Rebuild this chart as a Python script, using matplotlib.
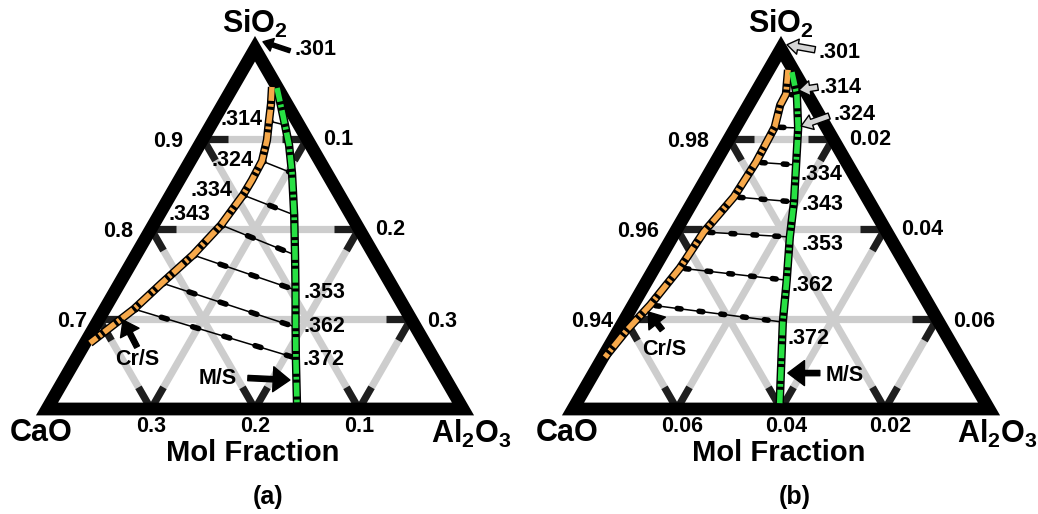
import numpy as np
import matplotlib.pyplot as plt
from matplotlib.patches import Polygon

plt.rcParams['font.family'] = ['Liberation Sans', 'DejaVu Sans']
plt.rcParams['font.weight'] = 'bold'
plt.rcParams['mathtext.fontset'] = 'custom'
plt.rcParams['mathtext.rm'] = 'Liberation Sans:bold'
plt.rcParams['mathtext.bf'] = 'Liberation Sans:bold'
plt.rcParams['lines.scale_dashes'] = False

# ---------------- data, panel (a): SiO2 0.6 .. 1.0 ----------------
a_sio2_min = 0.6
a_left_vals = [0.7, 0.8, 0.9]      # SiO2
a_right_vals = [0.1, 0.2, 0.3]     # Al2O3
a_bottom_vals = [0.3, 0.2, 0.1]    # CaO

# Cr/S and M/S boundaries (mol fraction SiO2, Al2O3)
a_crs_sio2 = [0.9575, 0.9386, 0.9197, 0.8986, 0.8753, 0.8542, 0.8376, 0.8209, 0.8043, 0.7710, 0.7399, 0.7110, 0.6733]
a_crs_al2o3 = [0.0376, 0.0461, 0.0536, 0.0622, 0.0691, 0.0700, 0.0697, 0.0674, 0.0652, 0.0549, 0.0406, 0.0282, 0.0047]
a_ms_sio2 = [0.9564, 0.9364, 0.9153, 0.8931, 0.8620, 0.8154, 0.7710, 0.7321, 0.6910, 0.6566, 0.6044]
a_ms_al2o3 = [0.0430, 0.0568, 0.0712, 0.0862, 0.1046, 0.1300, 0.1530, 0.1729, 0.1935, 0.2110, 0.2382]

tie_labels = ['.314', '.324', '.334', '.343', '.353', '.362', '.372']
a_tie_crs_sio2 = [0.9197, 0.8753, 0.8376, 0.8043, 0.7710, 0.7399, 0.7110]
a_tie_crs_al2o3 = [0.0536, 0.0691, 0.0697, 0.0652, 0.0549, 0.0406, 0.0282]
a_tie_ms_sio2 = [0.9153, 0.8620, 0.8154, 0.7710, 0.7321, 0.6910, 0.6566]
a_tie_ms_al2o3 = [0.0712, 0.1046, 0.1300, 0.1530, 0.1729, 0.1935, 0.2110]

# ---------------- data, panel (b): SiO2 0.92 .. 1.0 ----------------
b_sio2_min = 0.92
b_left_vals = [0.94, 0.96, 0.98]
b_right_vals = [0.02, 0.04, 0.06]
b_bottom_vals = [0.06, 0.04, 0.02]

b_crs_sio2 = [0.9953, 0.9899, 0.9875, 0.9826, 0.9748, 0.9671, 0.9593, 0.9513, 0.9431, 0.9375, 0.9315]
b_crs_al2o3 = [0.0037, 0.0060, 0.0061, 0.0075, 0.0078, 0.0074, 0.0055, 0.0049, 0.0033, 0.0016, 0.0004]
b_ms_sio2 = [0.9948, 0.9897, 0.9824, 0.9742, 0.9660, 0.9582, 0.9486, 0.9393, 0.9213]
b_ms_al2o3 = [0.0047, 0.0082, 0.0121, 0.0158, 0.0195, 0.0226, 0.0268, 0.0307, 0.0391]

b_tie_crs_sio2 = [0.9899, 0.9826, 0.9748, 0.9671, 0.9593, 0.9513, 0.9431]
b_tie_crs_al2o3 = [0.0060, 0.0075, 0.0078, 0.0074, 0.0055, 0.0049, 0.0033]
b_tie_ms_sio2 = [0.9897, 0.9824, 0.9742, 0.9660, 0.9582, 0.9486, 0.9393]
b_tie_ms_al2o3 = [0.0082, 0.0121, 0.0158, 0.0195, 0.0226, 0.0268, 0.0307]

H = np.sqrt(3) / 2
PX = 1 / 416.0          # one pixel in triangle units
ORANGE = '#f6a84a'
GREEN = '#27e043'
GRID = '#cdcdcd'
TICK = '#1e1e1e'
FS = 15.5


def proj(sio2, al2o3, smin):
    span = 1.0 - smin
    s = (np.asarray(sio2, float) - smin) / span
    a = np.asarray(al2o3, float) / span
    return a + s / 2, s * H


def off(p, dx, dy):
    return (p[0] + dx * PX, p[1] + dy * PX)


def arrow(ax, tip, tail, fc, hw, hl, tw):
    ax.annotate('', xy=tip, xytext=tail, zorder=8,
                arrowprops=dict(arrowstyle=f'simple,head_length={hl},head_width={hw},tail_width={tw}',
                                fc=fc, ec='k', lw=1, shrinkA=0, shrinkB=0, mutation_scale=10))


def draw_panel(ax, smin, x0, left_vals, right_vals, bottom_vals,
               crs, ms, tie_crs, tie_ms, dash, bdx, letter):
    ax.set_xlim(-x0 * PX, (519 - x0) * PX)
    ax.set_ylim(-105 * PX, 409 * PX)
    ax.axis('off')

    # grid lines (gray) with dark end ticks
    segs = []
    for v in left_vals:
        segs.append(((v, 0), (v, 1 - v)))
    for v in right_vals:
        segs.append(((smin, v), (1 - v, v)))
    for v in bottom_vals:
        segs.append(((1 - v, 0), (smin, 1 - smin - v)))
    tl = 25 * PX
    for p, q in segs:
        x, y = proj([p[0], q[0]], [p[1], q[1]], smin)
        ax.plot(x, y, color=GRID, lw=5.2, solid_capstyle='butt', zorder=1)
        d = np.array([x[1] - x[0], y[1] - y[0]])
        d = d / np.hypot(*d) * tl
        ax.plot([x[0], x[0] + d[0]], [y[0], y[0] + d[1]], color=TICK, lw=5.2,
                solid_capstyle='butt', zorder=2)
        ax.plot([x[1], x[1] - d[0]], [y[1], y[1] - d[1]], color=TICK, lw=5.2,
                solid_capstyle='butt', zorder=2)

    # tie lines
    for i in range(len(tie_crs[0])):
        x, y = proj([tie_crs[0][i], tie_ms[0][i]], [tie_crs[1][i], tie_ms[1][i]], smin)
        ax.plot(x, y, color='k', lw=1.1, zorder=3)
        ax.plot(x, y, color='k', lw=4.0, linestyle=(dash[2], (dash[0], dash[1])),
                dash_capstyle='round', zorder=3)

    # triangle border
    ax.add_patch(Polygon([[0, 0], [1, 0], [0.5, H]], closed=True, fill=False,
                         ec='k', lw=9.2, joinstyle='miter', zorder=4))

    # phase boundaries
    for (s, a), col in ((crs, ORANGE), (ms, GREEN)):
        x, y = proj(s, a, smin)
        ax.plot(x, y, color='k', lw=6.0, solid_capstyle='butt', zorder=5)
        ax.plot(x, y, color=col, lw=4.0, linestyle=(0, (10, 2.2, 2, 2.2)),
                dash_capstyle='butt', zorder=6)

    # axis tick labels
    for i, v in enumerate(left_vals):
        p = off(proj(v, 0, smin), [-12, -18, -20][i], -3)
        ax.text(*p, f'{v:g}', ha='right', va='center', fontsize=FS)
    for i, v in enumerate(right_vals):
        p = off(proj(1 - v, v, smin), 16, [-1, -1, -3][i])
        ax.text(*p, f'{v:g}', ha='left', va='center', fontsize=FS)
    for v in bottom_vals:
        p = off(proj(smin, 1 - smin - v, smin), bdx, -17)
        ax.text(*p, f'{v:g}', ha='center', va='center', fontsize=FS)

    ax.text(0.5, (409 - 24) * PX, r'SiO$_2$', ha='center', va='center', fontsize=22)
    ax.text(-0.013, -24 * PX, 'CaO', ha='center', va='center', fontsize=22)
    ax.text(1.02, -25 * PX, r'Al$_2$O$_3$', ha='center', va='center', fontsize=22)
    ax.text(0.495, -44 * PX, 'Mol Fraction', ha='center', va='center', fontsize=21)
    ax.text(0.532, -88 * PX, letter, ha='center', va='center', fontsize=18)


fig = plt.figure(figsize=(10.38, 5.14), dpi=100)
ax_a = fig.add_axes([0, 0, 0.5, 1])
ax_b = fig.add_axes([0.5, 0, 0.5, 1])

draw_panel(ax_a, a_sio2_min, 47, a_left_vals, a_right_vals, a_bottom_vals,
           (a_crs_sio2, a_crs_al2o3), (a_ms_sio2, a_ms_al2o3),
           (a_tie_crs_sio2, a_tie_crs_al2o3), (a_tie_ms_sio2, a_tie_ms_al2o3),
           (4.5, 19.0, 3.0), 0, '(a)')
draw_panel(ax_b, b_sio2_min, 54, b_left_vals, b_right_vals, b_bottom_vals,
           (b_crs_sio2, b_crs_al2o3), (b_ms_sio2, b_ms_al2o3),
           (b_tie_crs_sio2, b_tie_crs_al2o3), (b_tie_ms_sio2, b_tie_ms_al2o3),
           (2.8, 13.0, 12.0), 5, '(b)')

# ---- labels panel (a) ----
apex = proj(1.0, 0.0, a_sio2_min)
arrow(ax_a, off(apex, 8, 7), off(apex, 35, -2), 'k', 0.95, 0.7, 0.3)
ax_a.text(*off(apex, 40, -1), '.301', ha='left', va='center', fontsize=FS)
a_lab_off = [(-6, 2), (-9, 1), (-11, 5), (-11, 10), (8, -2), (8, 1), (7, -1)]
for i, lab in enumerate(tie_labels):
    if i < 4:
        p = proj(a_tie_crs_sio2[i], a_tie_crs_al2o3[i], a_sio2_min)
        ax_a.text(*off(p, *a_lab_off[i]), lab, ha='right', va='center', fontsize=FS, zorder=9)
    else:
        p = proj(a_tie_ms_sio2[i], a_tie_ms_al2o3[i], a_sio2_min)
        ax_a.text(*off(p, *a_lab_off[i]), lab, ha='left', va='center', fontsize=FS, zorder=9)
p_cr = proj(a_tie_crs_sio2[-1], a_tie_crs_al2o3[-1], a_sio2_min)
arrow(ax_a, off(p_cr, -11, -11), off(p_cr, 3, -38), 'k', 1.5, 1.05, 0.38)
ax_a.text(*off(p_cr, 3, -50), 'Cr/S', ha='center', va='center', fontsize=FS)
p_ms = proj(a_tie_ms_sio2[-1], a_tie_ms_al2o3[-1], a_sio2_min)
arrow(ax_a, off(p_ms, -6, -22), off(p_ms, -48, -20), 'k', 1.8, 1.2, 0.38)
ax_a.text(*off(p_ms, -78, -20), 'M/S', ha='center', va='center', fontsize=FS)

# ---- labels panel (b) ----
apex = proj(1.0, 0.0, b_sio2_min)
arrow(ax_b, off(apex, 6, 4), off(apex, 34, -1), '#d4d4d4', 1.1, 0.8, 0.45)
ax_b.text(*off(apex, 37, -4), '.301', ha='left', va='center', fontsize=FS)
b_arrow_off = [((2, 5), (21, 8)), ((3, 2), (31, 12))]
b_lab_off = [(23, 8), (35, 13), (4, -10), (8, -3), (12, -8), (5, -5), (5, -16)]
for i, lab in enumerate(tie_labels):
    p = proj(b_tie_ms_sio2[i], b_tie_ms_al2o3[i], b_sio2_min)
    if i < 2:
        arrow(ax_b, off(p, *b_arrow_off[i][0]), off(p, *b_arrow_off[i][1]), '#d4d4d4', 1.1, 0.8, 0.45)
    ax_b.text(*off(p, *b_lab_off[i]), lab, ha='left', va='center', fontsize=FS, zorder=9)
p_cr = proj(b_tie_crs_sio2[-1], b_tie_crs_al2o3[-1], b_sio2_min)
arrow(ax_b, off(p_cr, -2, -7), off(p_cr, 12, -25), 'k', 1.5, 1.05, 0.38)
ax_b.text(*off(p_cr, 14, -45), 'Cr/S', ha='center', va='center', fontsize=FS)
p_ms = proj(b_tie_ms_sio2[-1], b_tie_ms_al2o3[-1], b_sio2_min)
arrow(ax_b, off(p_ms, 5, -51), off(p_ms, 37, -51), 'k', 1.8, 1.2, 0.38)
ax_b.text(*off(p_ms, 62, -53), 'M/S', ha='center', va='center', fontsize=FS)

fig.savefig('out.png', dpi=100)
